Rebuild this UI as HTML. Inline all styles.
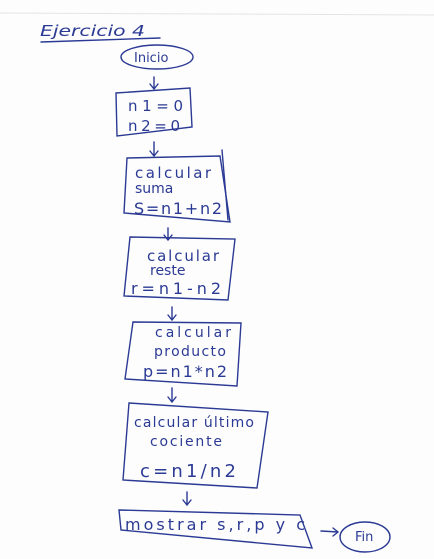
<!DOCTYPE html>
<html><head><meta charset="utf-8"><style>
html,body{margin:0;padding:0;background:#fdfdfd;}
svg{display:block}
text{font-family:"DejaVu Sans","Liberation Sans",sans-serif;fill:#2b3a94;}
</style></head><body>
<svg width="434" height="559" viewBox="0 0 434 559" xmlns="http://www.w3.org/2000/svg">
<rect width="434" height="559" fill="#fdfdfd"/>
<line x1="0" y1="13" x2="434" y2="15" stroke="#e4e4e4" stroke-width="1"/>
<g stroke="#2b3a94" stroke-width="1.4" fill="none" stroke-linecap="round">
<path d="M41 42 L160 38"/>
<ellipse cx="157" cy="57" rx="36" ry="12"/>
<path d="M154 77 L154 89 M150 84 L154 89 L158 84"/>
<path d="M116 93 L190 88 L192 127 L117 136 Z"/>
<path d="M154 142 L154 156 M150 151 L154 156 L158 151"/>
<path d="M127 158 L220 156 L230 222 L124 213 Z"/>
<path d="M222 150 L228 220"/>
<path d="M168 228 L168 240 M164 235 L168 240 L172 235"/>
<path d="M130 237 L235 239 L228 300 L124 296 Z"/>
<path d="M172 307 L172 320 M168 315 L172 320 L176 315"/>
<path d="M133 322 L241 323 L237 386 L125 379 Z"/>
<path d="M172 388 L172 402 M168 397 L172 402 L176 397"/>
<path d="M129 403 L268 412 L257 488 L123 480 Z"/>
<path d="M187 492 L187 505 M183 500 L187 505 L191 500"/>
<path d="M119 510 L300 515 L312 548 L121 530 Z"/>
<path d="M321 531 L338 532 M333 528 L338 532 L333 536"/>
<ellipse cx="365" cy="537" rx="25" ry="15"/>
</g>
<text x="40" y="36" font-size="15" font-style="italic" textLength="105" lengthAdjust="spacingAndGlyphs">Ejercicio 4</text>
<text x="134" y="62" font-size="13">Inicio</text>
<text x="128" y="111" font-size="15" textLength="55">n1=0</text>
<text x="128" y="131" font-size="15" textLength="52">n2=0</text>
<text x="135" y="178" font-size="15" textLength="76">calcular</text>
<text x="135" y="193" font-size="14">suma</text>
<text x="134" y="214" font-size="16" textLength="88">S=n1+n2</text>
<text x="147" y="261" font-size="15" textLength="72">calcular</text>
<text x="150" y="275" font-size="14">reste</text>
<text x="131" y="294" font-size="16" textLength="90">r=n1-n2</text>
<text x="155" y="337" font-size="14" textLength="76">calcular</text>
<text x="154" y="356" font-size="14" textLength="72">producto</text>
<text x="143" y="377" font-size="16" textLength="84">p=n1*n2</text>
<text x="134" y="427" font-size="14" textLength="120">calcular último</text>
<text x="150" y="446" font-size="14" textLength="72">cociente</text>
<text x="140" y="477" font-size="18" textLength="96">c=n1/n2</text>
<text x="125" y="530" font-size="16" textLength="180">mostrar s,r,p y c</text>
<text x="355" y="541" font-size="13">Fin</text>
</svg>
</body></html>
